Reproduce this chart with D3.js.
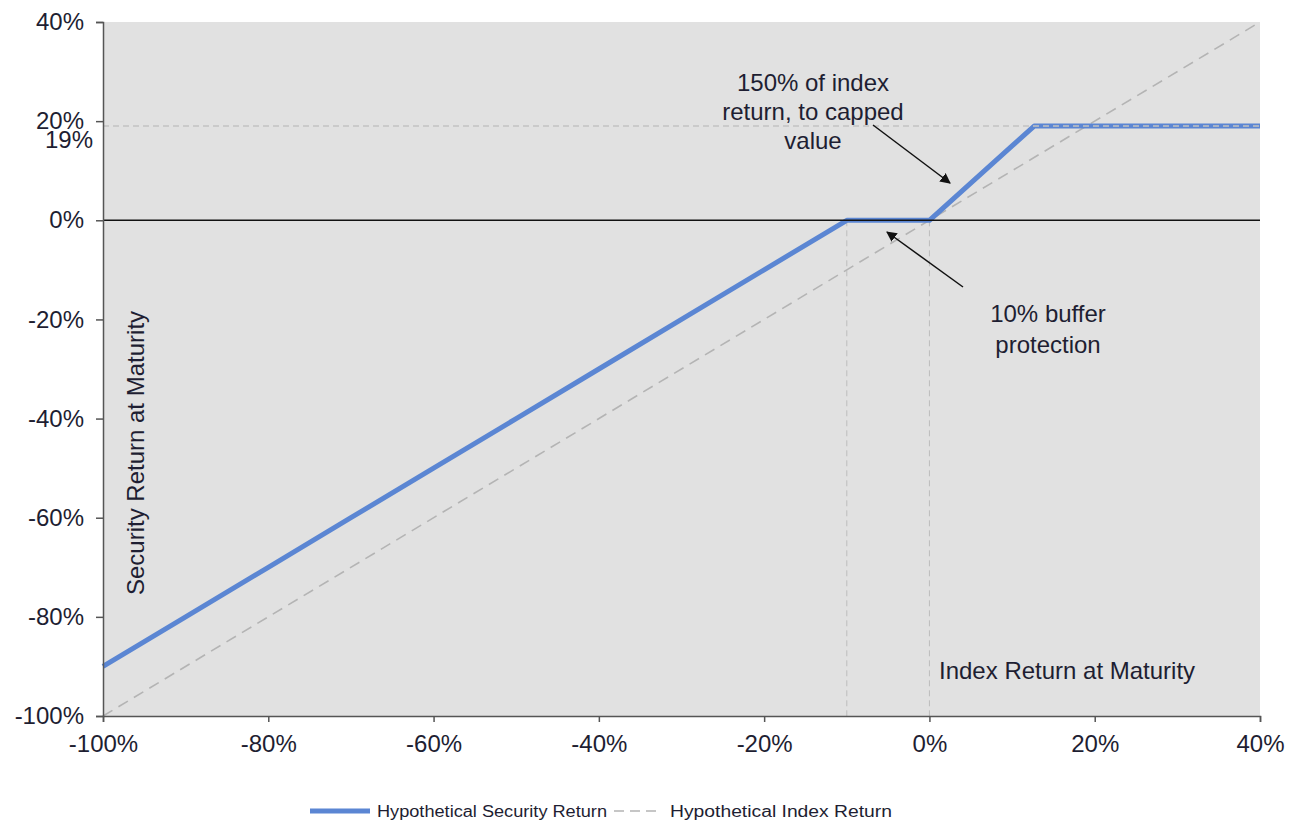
<!DOCTYPE html>
<html><head><meta charset="utf-8">
<script src="https://cdn.jsdelivr.net/npm/d3@7"></script>
<style>body{margin:0;background:#fff;} text{font-family:"Liberation Sans",Arial,sans-serif;fill:#1e1e32;}</style>
</head><body><svg id="c" width="1298" height="823"></svg>
<script>
const indexReturn = [-100,-90,-80,-70,-60,-50,-40,-30,-20,-10,0,5,10,12.67,20,30,40];
const securityReturn = [-90,-80,-70,-60,-50,-40,-30,-20,-10,0,0,7.5,15,19,19,19,19];
const indexLineX = [-100,40];
const indexLineY = [-100,40];
const capValue = 19;
const bufferLevel = -10;
const xTicks = [-100,-80,-60,-40,-20,0,20,40];
const yTicks = [-100,-80,-60,-40,-20,0,20,40];
const seriesNames = ["Hypothetical Security Return","Hypothetical Index Return"];

const svg = d3.select("#c");
const L=103,R=1260,T=22,B=716;
const x = d3.scaleLinear().domain([-100,40]).range([L,R]);
const y = d3.scaleLinear().domain([-100,40]).range([B,T]);
const fmt = d=>d+"%";
const blue="#5b86d3", gray="#b4b4b4";
const FS=24;

svg.append("rect").attr("x",L).attr("y",T).attr("width",R-L).attr("height",B-T).attr("fill","#e1e1e1");

[bufferLevel,0].forEach(v=>{
  svg.append("line").attr("x1",x(v)).attr("x2",x(v)).attr("y1",y(0)).attr("y2",y(-100))
    .attr("stroke","#bdbdbd").attr("stroke-width",1).attr("stroke-dasharray","6,4");
});

svg.append("path").datum(indexLineX.map((d,i)=>[d,indexLineY[i]]))
  .attr("d",d3.line().x(d=>x(d[0])).y(d=>y(d[1])))
  .attr("fill","none").attr("stroke",gray).attr("stroke-width",1.6).attr("stroke-dasharray","11,7");

svg.append("path").datum(indexReturn.map((d,i)=>[d,securityReturn[i]]))
  .attr("d",d3.line().x(d=>x(d[0])).y(d=>y(d[1])))
  .attr("fill","none").attr("stroke",blue).attr("stroke-width",5).attr("stroke-linejoin","round");

svg.append("line").attr("x1",L).attr("x2",R).attr("y1",y(0)).attr("y2",y(0)).attr("stroke","#111").attr("stroke-width",1.5);

svg.append("line").attr("x1",L).attr("x2",R).attr("y1",y(capValue)).attr("y2",y(capValue))
  .attr("stroke","#c2c2c2").attr("stroke-width",1.5).attr("stroke-dasharray","6,4");

const xa = svg.append("g").attr("transform",`translate(0,${B})`)
  .call(d3.axisBottom(x).tickValues(xTicks).tickFormat(fmt).tickSize(6).tickPadding(13));
const ya = svg.append("g").attr("transform",`translate(${L},0)`)
  .call(d3.axisLeft(y).tickValues(yTicks).tickFormat(fmt).tickSize(7).tickPadding(12));
[xa,ya].forEach(a=>{
  a.selectAll("path").attr("stroke","#555").attr("stroke-width",1.5);
  a.selectAll("line").attr("stroke","#555").attr("stroke-width",1.5);
  a.selectAll("text").attr("font-size",FS).attr("fill","#1e1e32").style("font-family","'Liberation Sans',Arial,sans-serif");
});

svg.append("text").attr("x",L-10).attr("y",y(capValue)+22).attr("text-anchor","end").attr("font-size",FS).text(fmt(capValue));

svg.append("text").attr("x",939).attr("y",679).attr("font-size",FS).text("Index Return at Maturity");
svg.append("text").attr("transform","translate(144,453) rotate(-90)").attr("text-anchor","middle").attr("font-size",FS).text("Security Return at Maturity");

const ann1 = ["150% of index","return, to capped","value"];
ann1.forEach((t,i)=>svg.append("text").attr("x",813).attr("y",91+i*29).attr("text-anchor","middle").attr("font-size",FS).text(t));
const ann2 = ["10% buffer","protection"];
ann2.forEach((t,i)=>svg.append("text").attr("x",1048).attr("y",322+i*31).attr("text-anchor","middle").attr("font-size",FS).text(t));

svg.append("defs").append("marker").attr("id","ah").attr("viewBox","0 0 10 10").attr("refX",9).attr("refY",5)
  .attr("markerWidth",7).attr("markerHeight",7).attr("orient","auto")
  .append("path").attr("d","M0,0 L10,5 L0,10 z").attr("fill","#111");
svg.append("line").attr("x1",873).attr("y1",125).attr("x2",950).attr("y2",183).attr("stroke","#111").attr("stroke-width",1.5).attr("marker-end","url(#ah)");
svg.append("line").attr("x1",963).attr("y1",287).attr("x2",887).attr("y2",232).attr("stroke","#111").attr("stroke-width",1.5).attr("marker-end","url(#ah)");

const lg = svg.append("g");
lg.append("line").attr("x1",310).attr("x2",370).attr("y1",811).attr("y2",811).attr("stroke",blue).attr("stroke-width",5);
lg.append("text").attr("x",377).attr("y",817).attr("font-size",16).attr("textLength",230).attr("lengthAdjust","spacingAndGlyphs").text(seriesNames[0]);
lg.append("line").attr("x1",614).attr("x2",662).attr("y1",811).attr("y2",811).attr("stroke",gray).attr("stroke-width",1.6).attr("stroke-dasharray","10,6");
lg.append("text").attr("x",670).attr("y",817).attr("font-size",16).attr("textLength",222).attr("lengthAdjust","spacingAndGlyphs").text(seriesNames[1]);
</script></body></html>
